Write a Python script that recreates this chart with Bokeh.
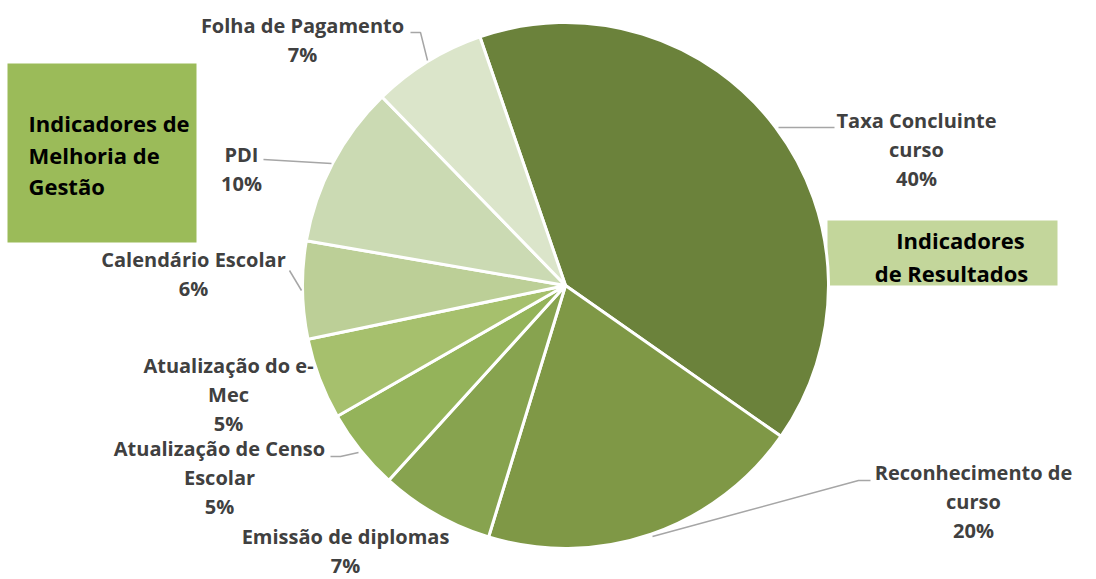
import numpy as np
from bokeh.plotting import figure
from bokeh.models import Range1d, ColumnDataSource
from bokeh.embed import file_html
from bokeh.resources import INLINE
from bokeh.core.properties import value

# ---------------- data ----------------
categories = ["Taxa Concluinte curso", "Reconhecimento de curso", "Emissão de diplomas",
              "Atualização de Censo Escolar", "Atualização do e-Mec", "Calendário Escolar",
              "PDI", "Folha de Pagamento"]
values = [40, 20, 7, 5, 5, 6, 10, 7]
pct_labels = ["40%", "20%", "7%", "5%", "5%", "6%", "10%", "7%"]
label_lines = [["Taxa Concluinte", "curso"], ["Reconhecimento de", "curso"],
               ["Emissão de diplomas"], ["Atualização de Censo", "Escolar"],
               ["Atualização do e-", "Mec"], ["Calendário Escolar"], ["PDI"],
               ["Folha de Pagamento"]]
colors = ["#6b823b", "#7f9846", "#87a34f", "#94b35a", "#a6c06d", "#bccf97", "#cbdab3", "#dbe5ca"]
box_left_lines = ["Indicadores de", "Melhoria de", "Gestão"]
box_right_lines = ["Indicadores", "de Resultados"]

# ---------------- layout (reference pixel coords) ----------------
W, H = 1096, 579
TDY = 8  # text baseline correction
def Y(y):
    return H - y
def TY(y):
    return H - (y - TDY)

CX, CY, R = 565, 285, 263
START_DEG = -19.0  # clockwise from 12 o'clock

label_pos = [(916, 128), (973, 480), (345, 544), (219, 456), (228, 373), (193, 267), (241, 162), (302, 33)]
LINE_SP = 29
leaders = [
    [(778, 127), (834, 127)],
    [(652, 536), (858, 480), (870, 480)],
    None,
    [(330, 456), (340, 456), (358, 452)],
    None,
    [(289, 270), (301, 290)],
    [(263, 159), (331, 163)],
    [(410, 32), (420, 32), (427, 60)],
]

p = figure(width=W, height=H, x_range=Range1d(0, W), y_range=Range1d(0, H),
           output_backend="svg", toolbar_location=None, min_border=0)
p.axis.visible = False
p.grid.visible = False
p.outline_line_color = None
p.background_fill_color = "white"

# boxes
p.quad(left=[7], right=[196], top=[Y(63)], bottom=[Y(242)], fill_color="#9bbb59", line_color=None)
p.quad(left=[827], right=[1057], top=[Y(220)], bottom=[Y(285)], fill_color="#c3d69b", line_color=None)

# wedges
total = float(sum(values))
cum = np.cumsum([0] + values) / total * 360.0
theta_s = START_DEG + cum[:-1]
theta_e = START_DEG + cum[1:]
src = ColumnDataSource(dict(
    x=[CX] * len(values), y=[Y(CY)] * len(values),
    start=np.radians(90 - theta_s), end=np.radians(90 - theta_e),
    color=colors, name=categories,
))
p.wedge(x="x", y="y", radius=R, start_angle="start", end_angle="end", direction="clock",
        fill_color="color", line_color="white", line_width=3, source=src)

# leader lines
for ld in leaders:
    if ld:
        p.line([a for a, b in ld], [Y(b) for a, b in ld], line_color="#a6a6a6", line_width=1.5)

# labels
tx, ty, tt = [], [], []
for (lx, ly), lines, pct in zip(label_pos, label_lines, pct_labels):
    for i, t in enumerate(lines + [pct]):
        tx.append(lx)
        ty.append(TY(ly + i * LINE_SP))
        tt.append(t)
p.text(x=tx, y=ty, text=tt, text_align="center", text_baseline="alphabetic",
       text_font=value("Open Sans"), text_font_style="bold", text_font_size="20px",
       text_color="#404040")

# box texts
p.text(x=[28] * 3, y=[TY(130), TY(162), TY(193)], text=box_left_lines, text_align="left",
       text_baseline="alphabetic", text_font=value("Open Sans"), text_font_style="bold",
       text_font_size="22px", text_color="#000000")
p.text(x=[960, 951], y=[TY(247), TY(280)], text=box_right_lines, text_align="center",
       text_baseline="alphabetic", text_font=value("Open Sans"), text_font_style="bold",
       text_font_size="22px", text_color="#000000")

open("out.html", "w").write(file_html(p, INLINE))
